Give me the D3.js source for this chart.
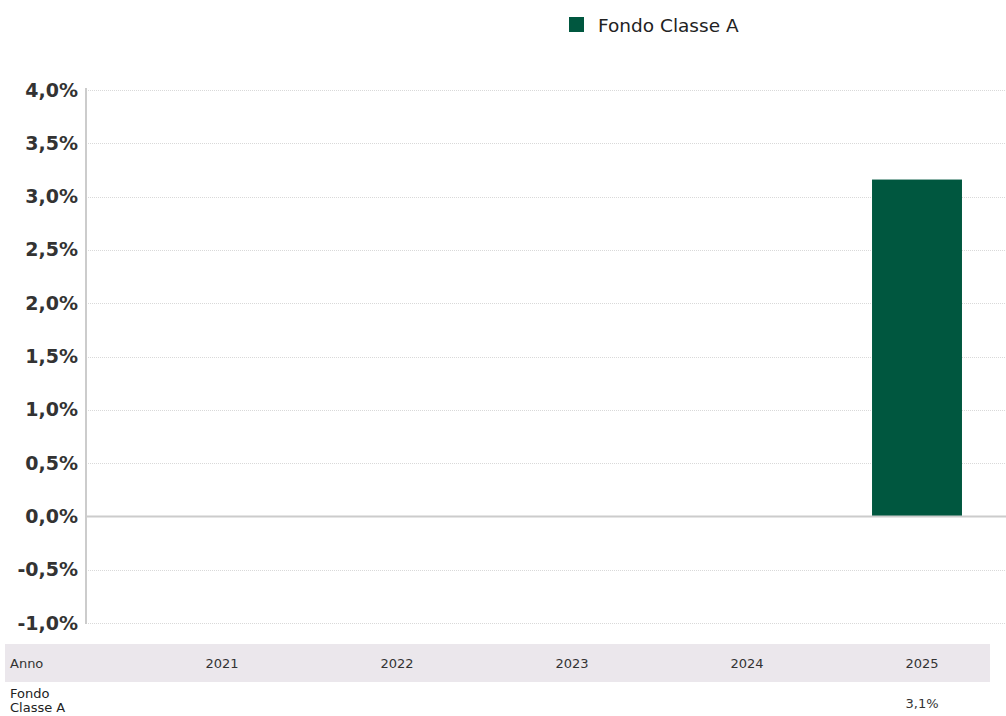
<!DOCTYPE html>
<html><head><meta charset="utf-8">
<script src="https://cdn.jsdelivr.net/npm/d3@7"></script>
<style>body{margin:0;background:#fff;font-family:"DejaVu Sans",Verdana,sans-serif;}</style>
</head><body>
<svg id="c" width="1006" height="716"></svg>
<script>
const categories = ["2021","2022","2023","2024","2025"];
const seriesName = "Fondo Classe A";
const values = [null, null, null, null, 3.16];
const tableLabels = ["", "", "", "", "3,1%"];
const yTicks = [-1.0,-0.5,0,0.5,1.0,1.5,2.0,2.5,3.0,3.5,4.0];
const color = "#00573f";

(function(){
const svg = d3.select("#c");
const pl = 86, pr = 1006, pt = 90, pb = 623;
const y = d3.scaleLinear().domain([-1, 4]).range([pb, pt]);
const x = d3.scaleBand().domain(categories).range([129.5, 1004.5]).paddingInner(0.486).paddingOuter(0.243);
const fmt = v => d3.format(".1f")(v).replace(".", ",").replace("\u2212", "-") + "%";

// grid
svg.append("g").selectAll("line").data(yTicks.filter(d => d !== 0)).join("line")
  .attr("x1", pl).attr("x2", pr)
  .attr("y1", d => Math.round(y(d)) + 0.5).attr("y2", d => Math.round(y(d)) + 0.5)
  .attr("stroke", "#d9d9d9").attr("stroke-width", 1).attr("stroke-dasharray", "1,1");

// y axis labels
const yAxis = d3.axisLeft(y).tickValues(yTicks).tickFormat(fmt).tickSize(0).tickPadding(8);
const ya = svg.append("g").attr("transform", `translate(${pl},0)`).call(yAxis);
ya.select(".domain").remove();
ya.selectAll("text").attr("font-family", "DejaVu Sans, Verdana, sans-serif")
  .attr("font-size", 19).attr("font-weight", "bold").attr("fill", "#333");

// bars
svg.append("g").selectAll("rect").data(categories.map((c, i) => ({c, v: values[i]})).filter(d => d.v != null))
  .join("rect")
  .attr("x", d => x(d.c)).attr("width", x.bandwidth())
  .attr("y", d => y(Math.max(0, d.v))).attr("height", d => Math.abs(y(d.v) - y(0)))
  .attr("fill", color);

// zero line
svg.append("line").attr("x1", pl).attr("x2", pr).attr("y1", y(0)).attr("y2", y(0))
  .attr("stroke", "#cccccc").attr("stroke-width", 2);
// axis line
svg.append("line").attr("x1", pl).attr("x2", pl).attr("y1", pt - 2).attr("y2", pb + 1)
  .attr("stroke", "#cccccc").attr("stroke-width", 2);

// legend
svg.append("rect").attr("x", 569).attr("y", 17).attr("width", 15).attr("height", 15).attr("fill", color);
svg.append("text").attr("x", 598).attr("y", 32).text(seriesName)
  .attr("font-size", 18.5).attr("fill", "#222");

// table
const colX = d3.scalePoint().domain(categories).range([222, 922]);
svg.append("rect").attr("x", 5).attr("y", 644).attr("width", 985).attr("height", 38).attr("fill", "#ebe7ec");
svg.append("text").attr("x", 10).attr("y", 668).text("Anno").attr("font-size", 13).attr("fill", "#333");
svg.append("g").selectAll("text").data(categories).join("text")
  .attr("x", d => colX(d)).attr("y", 668).attr("text-anchor", "middle")
  .attr("font-size", 13).attr("fill", "#333").text(d => d);
svg.append("text").attr("x", 10).attr("y", 698).text("Fondo").attr("font-size", 13).attr("fill", "#222");
svg.append("text").attr("x", 10).attr("y", 712).text("Classe A").attr("font-size", 13).attr("fill", "#222");
svg.append("g").selectAll("text").data(categories.map((c, i) => ({c, t: tableLabels[i]}))).join("text")
  .attr("x", d => colX(d.c)).attr("y", 708).attr("text-anchor", "middle")
  .attr("font-size", 13).attr("fill", "#333").text(d => d.t);
})();
</script>
</body></html>
